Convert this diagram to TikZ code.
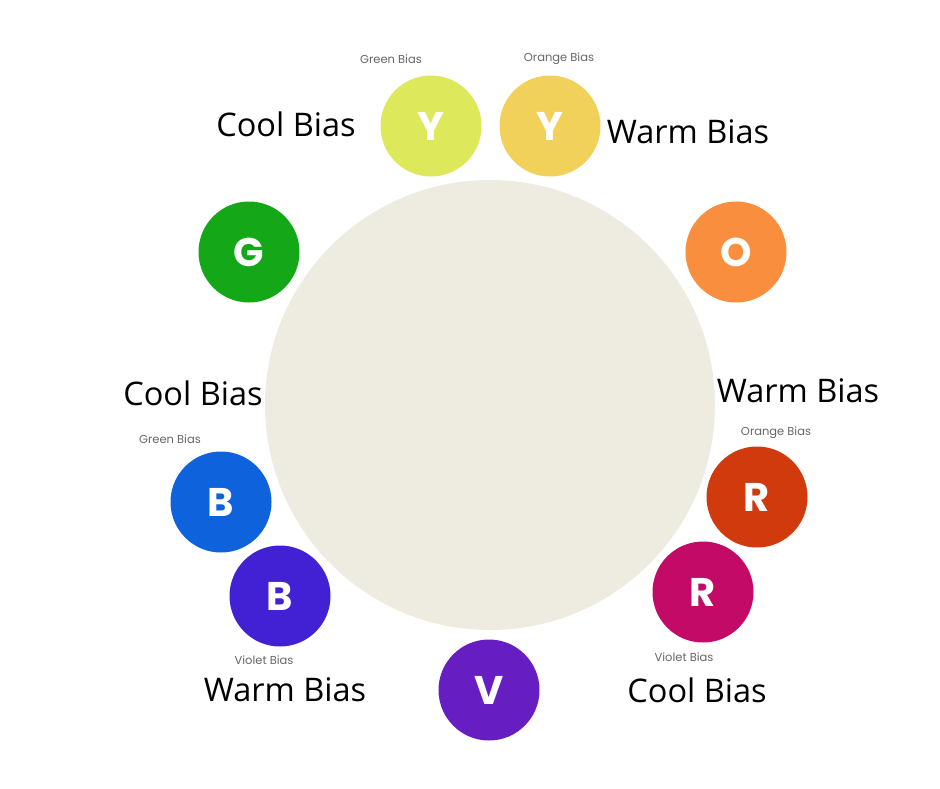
\documentclass[tikz,border=0pt]{standalone}
\usepackage{fontspec}
\setmainfont{Open Sans}
\newfontfamily\swatchfont{Poppins}
\usepackage{tikz}
\usetikzlibrary{positioning}
\definecolor{wcream}{HTML}{EEEBE0}
\definecolor{cyellowg}{HTML}{DDE85A}
\definecolor{cyellowo}{HTML}{F2D15A}
\definecolor{corange}{HTML}{F98E3E}
\definecolor{credo}{HTML}{D03A0C}
\definecolor{credv}{HTML}{C20A66}
\definecolor{cviolet}{HTML}{661EC2}
\definecolor{cbluev}{HTML}{4220D4}
\definecolor{cblueg}{HTML}{0E62DC}
\definecolor{cgreen}{HTML}{14A818}
\tikzset{
  wheel/.style={circle, fill=wcream, minimum size=450pt, inner sep=0pt},
  hue/.style={circle, minimum size=101pt, inner sep=0pt, text=white,
              font=\swatchfont\bfseries\fontsize{40}{40}\selectfont},
  biaslbl/.style={black, font=\fontsize{32.5}{32.5}\selectfont},
  notelbl/.style={black!60, font=\swatchfont\fontsize{11.5}{11.5}\selectfont},
}
\begin{document}
\begin{tikzpicture}[x=1pt,y=-1pt]
  \useasboundingbox (0,0) rectangle (940,788);

  % big wheel
  \node[wheel] (wheel) at (490,405) {};

  % colour swatches
  \foreach \n/\c/\l/\x/\y in {yg/cyellowg/Y/431/126, yo/cyellowo/Y/550/126,
      o/corange/O/736/252, ro/credo/R/757/497, rv/credv/R/703/592,
      v/cviolet/V/489/690, bv/cbluev/B/280/596, bg/cblueg/B/221/502,
      g/cgreen/G/249/252}
    \node[hue, fill=\c] (\n) at (\x,\y) {\l};

  % bias notes
  \node[notelbl] (nyg) at (391,59) {Green Bias};
  \node[notelbl] (nyo) at (559,59) {Orange Bias};
  \node[notelbl] (nbg) at (170,439) {Green Bias};
  \node[notelbl] (nro) at (776,433) {Orange Bias};
  \node[notelbl] (nbv) at (264,660) {Violet Bias};
  \node[notelbl] (nrv) at (684,657) {Violet Bias};

  % warm / cool
  \node[biaslbl] (cooly) at (286,124) {Cool Bias};
  \node[biaslbl] (warmy) at (688,132) {Warm Bias};
  \node[biaslbl] (coolb) at (193,393) {Cool Bias};
  \node[biaslbl] (warmr) at (798,391) {Warm Bias};
  \node[biaslbl] (warmb) at (285,690) {Warm Bias};
  \node[biaslbl] (coolr) at (697,690) {Cool Bias};

\end{tikzpicture}
\end{document}
